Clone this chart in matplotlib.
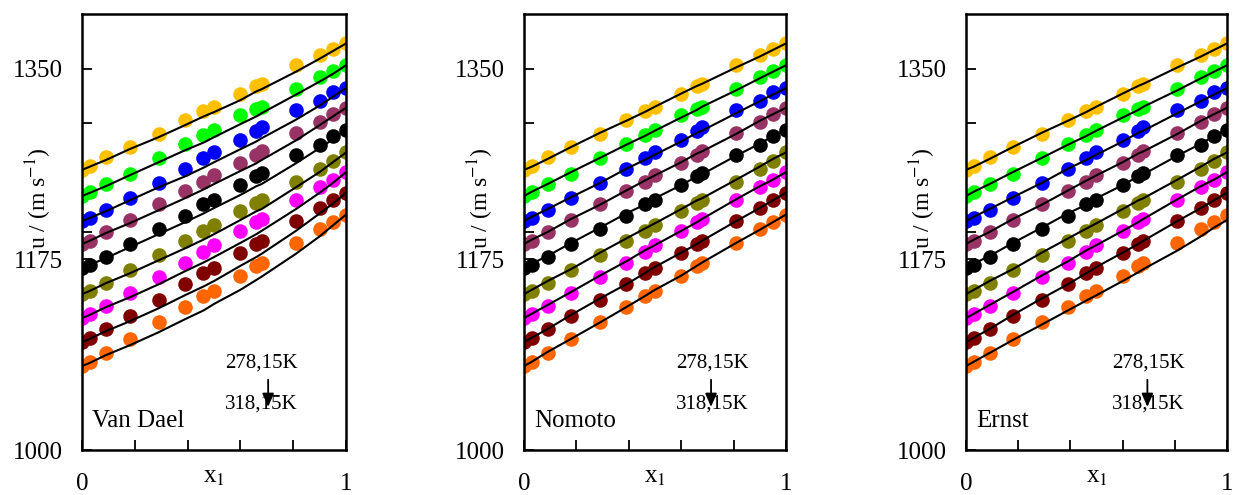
import matplotlib
matplotlib.use("Agg")
import matplotlib.pyplot as plt

plt.rcParams["font.family"] = ["Liberation Serif", "DejaVu Serif"]
plt.rcParams["mathtext.fontset"] = "stix"

# mole fraction of component 1
x1 = [0, 0.03, 0.09, 0.18, 0.29, 0.39, 0.46, 0.50, 0.60, 0.66, 0.68, 0.81, 0.90, 0.95, 1.0]

temps = ["278,15K", "283,15K", "288,15K", "293,15K", "298,15K",
         "303,15K", "308,15K", "313,15K", "318,15K"]
colors = ["#FFC000", "#00FF00", "#0000FF", "#993366", "#000000",
          "#808000", "#FF00FF", "#800000", "#FF6600"]

# measured speed of sound, m/s (one row per temperature)
u_exp = [
    [1257, 1261, 1269, 1278, 1290, 1303, 1311, 1315, 1327, 1334, 1336, 1353, 1362, 1368, 1373],
    [1233, 1237, 1244, 1253, 1268, 1281, 1289, 1294, 1307, 1313, 1315, 1331, 1342, 1348, 1353],
    [1210, 1213, 1220, 1231, 1245, 1258, 1268, 1273, 1284, 1293, 1296, 1312, 1320, 1328, 1332],
    [1189, 1192, 1200, 1211, 1226, 1238, 1246, 1252, 1263, 1271, 1274, 1291, 1301, 1308, 1314],
    [1167, 1170, 1177, 1189, 1203, 1215, 1226, 1229, 1243, 1251, 1254, 1271, 1280, 1288, 1294],
    [1143, 1146, 1153, 1165, 1179, 1192, 1201, 1206, 1219, 1227, 1229, 1246, 1258, 1265, 1273],
    [1121, 1125, 1132, 1144, 1159, 1172, 1182, 1188, 1201, 1209, 1212, 1229, 1241, 1248, 1255],
    [1099, 1103, 1111, 1123, 1138, 1152, 1162, 1167, 1181, 1189, 1192, 1210, 1222, 1229, 1236],
    [1077, 1081, 1089, 1102, 1117, 1131, 1141, 1146, 1160, 1169, 1172, 1190, 1203, 1209, 1216],
]

# predicted values
u_vandael = [
    [1257, 1260, 1266, 1276, 1287, 1298, 1306, 1310, 1321, 1329, 1331, 1347, 1359, 1366, 1373],
    [1233, 1236, 1242, 1252, 1264, 1275, 1282, 1287, 1299, 1306, 1309, 1326, 1338, 1345, 1353],
    [1210, 1213, 1219, 1229, 1241, 1251, 1259, 1264, 1276, 1283, 1286, 1303, 1316, 1324, 1332],
    [1189, 1192, 1199, 1208, 1220, 1231, 1239, 1244, 1256, 1263, 1266, 1284, 1298, 1306, 1314],
    [1167, 1170, 1176, 1186, 1198, 1209, 1217, 1222, 1234, 1242, 1244, 1263, 1277, 1285, 1294],
    [1143, 1146, 1153, 1162, 1174, 1185, 1193, 1198, 1211, 1219, 1221, 1241, 1255, 1264, 1273],
    [1121, 1124, 1131, 1140, 1152, 1164, 1172, 1177, 1190, 1198, 1201, 1221, 1236, 1245, 1255],
    [1099, 1102, 1109, 1118, 1130, 1142, 1150, 1155, 1169, 1177, 1180, 1201, 1217, 1226, 1236],
    [1077, 1080, 1087, 1096, 1108, 1120, 1128, 1134, 1147, 1156, 1159, 1180, 1196, 1206, 1216],
]

u_nomoto = [
    [1257, 1260, 1267, 1278, 1291, 1302, 1310, 1315, 1327, 1334, 1336, 1351, 1361, 1367, 1373],
    [1233, 1237, 1244, 1255, 1268, 1280, 1288, 1293, 1305, 1312, 1315, 1330, 1341, 1347, 1353],
    [1210, 1214, 1221, 1232, 1245, 1258, 1266, 1271, 1283, 1291, 1293, 1309, 1320, 1326, 1332],
    [1189, 1193, 1200, 1212, 1225, 1238, 1247, 1252, 1264, 1272, 1274, 1290, 1302, 1308, 1314],
    [1167, 1171, 1178, 1190, 1204, 1217, 1225, 1231, 1243, 1251, 1253, 1270, 1281, 1288, 1294],
    [1143, 1147, 1155, 1166, 1181, 1194, 1203, 1208, 1221, 1229, 1231, 1248, 1260, 1267, 1273],
    [1121, 1125, 1133, 1145, 1160, 1173, 1183, 1188, 1201, 1209, 1212, 1230, 1242, 1248, 1255],
    [1099, 1103, 1111, 1124, 1139, 1152, 1162, 1168, 1181, 1189, 1192, 1210, 1222, 1229, 1236],
    [1077, 1081, 1090, 1102, 1117, 1131, 1141, 1147, 1160, 1169, 1172, 1190, 1202, 1209, 1216],
]

u_ernst = [
    [1257, 1260, 1267, 1278, 1291, 1302, 1310, 1315, 1327, 1334, 1336, 1351, 1361, 1367, 1373],
    [1233, 1237, 1244, 1255, 1268, 1280, 1288, 1293, 1305, 1312, 1315, 1330, 1341, 1347, 1353],
    [1210, 1214, 1221, 1232, 1245, 1258, 1266, 1271, 1283, 1291, 1293, 1309, 1320, 1326, 1332],
    [1189, 1193, 1200, 1212, 1225, 1238, 1247, 1252, 1264, 1272, 1274, 1290, 1302, 1308, 1314],
    [1167, 1171, 1178, 1190, 1204, 1217, 1225, 1231, 1243, 1251, 1253, 1270, 1281, 1288, 1294],
    [1143, 1147, 1155, 1166, 1181, 1194, 1203, 1208, 1221, 1229, 1231, 1248, 1260, 1267, 1273],
    [1121, 1125, 1133, 1145, 1160, 1173, 1183, 1188, 1201, 1209, 1212, 1230, 1242, 1248, 1255],
    [1099, 1103, 1111, 1124, 1139, 1152, 1162, 1168, 1181, 1189, 1192, 1210, 1222, 1229, 1236],
    [1077, 1081, 1089, 1101, 1115, 1128, 1137, 1142, 1155, 1163, 1166, 1183, 1196, 1204, 1211],
]

panels = [
    ("Van Dael", u_vandael, [0.0664, 0.0909, 0.2138, 0.8808], 0.68, 0.705),
    ("Nomoto", u_nomoto, [0.4243, 0.0909, 0.2121, 0.8808], 0.72, 0.714),
    ("Ernst", u_ernst, [0.7822, 0.0909, 0.2113, 0.8808], 0.70, 0.695),
]

fig = plt.figure(figsize=(12.35, 4.95), dpi=100)

for name, u_model, rect, tx, ax_x in panels:
    ax = fig.add_axes(rect)
    for i in range(len(temps)):
        ax.plot(x1, u_exp[i], "o", color=colors[i], markersize=10.5,
                markeredgewidth=0, zorder=2)
    for i in range(len(temps)):
        ax.plot(x1, u_model[i], "-", color="black", lw=1.5, zorder=3)

    ax.set_xlim(0, 1)
    ax.set_ylim(1000, 1400)
    ax.set_xticks([0, 0.2, 0.4, 0.6, 0.8, 1.0])
    ax.set_xticklabels(["", "", "", "", "", ""])
    ax.set_yticks([1000, 1175, 1350])
    ax.set_yticklabels(["1000", "1175", "1350"], fontsize=18)
    ax.set_yticks([1200, 1300], minor=True)
    ax.tick_params(axis="both", which="both", direction="in", length=7, width=1.3)
    ax.tick_params(axis="y", which="major", pad=14)
    for sp in ax.spines.values():
        sp.set_linewidth(1.8)

    ax.text(0, -0.078, "0", transform=ax.transAxes, ha="center", va="center", fontsize=18)
    ax.text(1, -0.078, "1", transform=ax.transAxes, ha="center", va="center", fontsize=18)
    ax.text(0.5, -0.062, "x$_1$", transform=ax.transAxes, ha="center", va="center", fontsize=18)
    ax.text(-0.165, 0.578, "u / (m s$^{-1}$)", transform=ax.transAxes, rotation=90,
            ha="center", va="center", fontsize=17)

    ax.text(0.038, 1027, name, ha="left", va="center", fontsize=18)
    ax.text(tx, 1080, "278,15K", ha="center", va="center", fontsize=15)
    ax.text(tx, 1042, "318,15K", ha="center", va="center", fontsize=15)
    ax.annotate("", xy=(ax_x, 1037), xytext=(ax_x, 1067),
                arrowprops=dict(arrowstyle="-|>,head_length=0.8,head_width=0.35",
                                color="black", lw=1.3))

fig.savefig("out.png", dpi=100)
